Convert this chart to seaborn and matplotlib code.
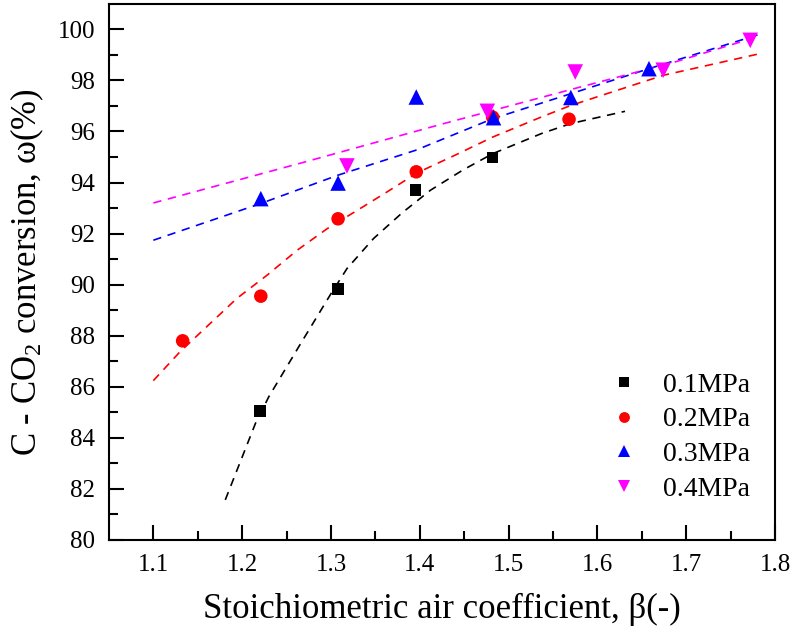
import numpy as np
import pandas as pd
import matplotlib
matplotlib.use("Agg")
import matplotlib.pyplot as plt
import seaborn as sns
from matplotlib.lines import Line2D

# ---- data ----
series = ["0.1MPa", "0.2MPa", "0.3MPa", "0.4MPa"]

x_01 = [1.220, 1.308, 1.395, 1.482]
y_01 = [85.05, 89.82, 93.70, 94.98]

x_02 = [1.133, 1.221, 1.308, 1.396, 1.482, 1.568]
y_02 = [87.80, 89.55, 92.58, 94.42, 96.56, 96.48]

x_03 = [1.221, 1.308, 1.396, 1.483, 1.570, 1.658]
y_03 = [93.37, 93.98, 97.35, 96.54, 97.33, 98.46]

x_04 = [1.318, 1.476, 1.575, 1.674, 1.772]
y_04 = [94.65, 96.79, 98.33, 98.40, 99.57]

# fitted curves
fx_01 = [1.181, 1.215, 1.230, 1.266, 1.299, 1.318, 1.348, 1.380, 1.412, 1.448, 1.482, 1.537, 1.570, 1.631]
fy_01 = [81.57, 84.57, 85.61, 87.70, 89.59, 90.63, 91.81, 92.81, 93.70, 94.48, 95.13, 95.92, 96.31, 96.79]

fx_02 = [1.100, 1.130, 1.164, 1.194, 1.228, 1.262, 1.296, 1.330, 1.363, 1.397, 1.442, 1.482, 1.537, 1.570, 1.674, 1.783]
fy_02 = [86.24, 87.37, 88.48, 89.46, 90.37, 91.35, 92.20, 92.92, 93.63, 94.38, 95.11, 95.78, 96.57, 97.02, 98.20, 99.05]

fx_03 = [1.100, 1.221, 1.308, 1.395, 1.482, 1.570, 1.658, 1.781]
fy_03 = [91.74, 93.18, 94.29, 95.26, 96.50, 97.48, 98.46, 99.79]

fx_04 = [1.100, 1.270, 1.427, 1.574, 1.687, 1.781]
fy_04 = [93.20, 94.80, 96.31, 97.68, 98.72, 99.72]

colors = ["#000000", "#ff0000", "#0000ff", "#ff00ff"]
markers = ["s", "o", "^", "v"]
msizes = [70, 95, 125, 125]

pts = pd.concat([
    pd.DataFrame({"beta": x, "omega": y, "p": s})
    for x, y, s in zip([x_01, x_02, x_03, x_04], [y_01, y_02, y_03, y_04], series)
])
fits = pd.concat([
    pd.DataFrame({"beta": x, "omega": y, "p": s})
    for x, y, s in zip([fx_01, fx_02, fx_03, fx_04], [fy_01, fy_02, fy_03, fy_04], series)
])

sns.set_theme(style="ticks")
plt.rcParams["font.family"] = ["Liberation Serif", "DejaVu Serif"]
plt.rcParams["mathtext.fontset"] = "custom"
plt.rcParams["mathtext.rm"] = "Liberation Serif"
plt.rcParams["mathtext.it"] = "Liberation Serif:italic"
plt.rcParams["axes.edgecolor"] = "black"
plt.rcParams["xtick.color"] = "black"
plt.rcParams["ytick.color"] = "black"
plt.rcParams["text.color"] = "black"
plt.rcParams["axes.labelcolor"] = "black"

fig = plt.figure(figsize=(7.95, 6.39), dpi=100)
ax = fig.add_axes([0.137, 0.155, 0.838, 0.839])

for s, c in zip(series, colors):
    d = fits[fits["p"] == s]
    sns.lineplot(data=d, x="beta", y="omega", ax=ax, color=c, lw=1.2,
                 linestyle=(0, (5, 4)), sort=False, estimator=None, legend=False)

handles = []
for s, c, m, ms in zip(series, colors, markers, msizes):
    d = pts[pts["p"] == s]
    sns.scatterplot(data=d, x="beta", y="omega", ax=ax, color=c, marker=m,
                    s=ms, edgecolor="none", linewidth=0, legend=False, zorder=3)
    handles.append(Line2D([], [], ls="none", marker=m, color=c,
                          markersize=np.sqrt(ms) * 0.8, markeredgewidth=0, label=s))

ax.set_xlim(1.05, 1.8)
ax.set_ylim(80, 101)
ax.set_xticks(np.arange(1.1, 1.81, 0.1))
ax.set_xticklabels([f"{v:.1f}" for v in np.arange(1.1, 1.81, 0.1)])
ax.set_xticks(np.arange(1.15, 1.8, 0.1), minor=True)
ax.set_yticks(np.arange(80, 101, 2))
ax.set_yticks(np.arange(81, 101, 2), minor=True)
ax.tick_params(axis="both", which="major", direction="in", length=11, width=1.5,
               labelsize=18, pad=10, top=False, right=False)
ax.tick_params(axis="both", which="minor", direction="in", length=6.5, width=1.5,
               top=False, right=False)
for sp in ax.spines.values():
    sp.set_linewidth(1.5)
    sp.set_color("black")
    sp.set_visible(True)

ax.set_xlabel("Stoichiometric air coefficient, β(-)", fontsize=25, labelpad=12)
ax.set_ylabel("C - CO$_2$ conversion, ω(%)", fontsize=25, labelpad=8)

ax.legend(handles=handles, loc="lower right", bbox_to_anchor=(1.0, 0.025),
          frameon=False, fontsize=20, handletextpad=0.8, labelspacing=0.33,
          handlelength=1.2)

fig.savefig("out.png", dpi=100)
